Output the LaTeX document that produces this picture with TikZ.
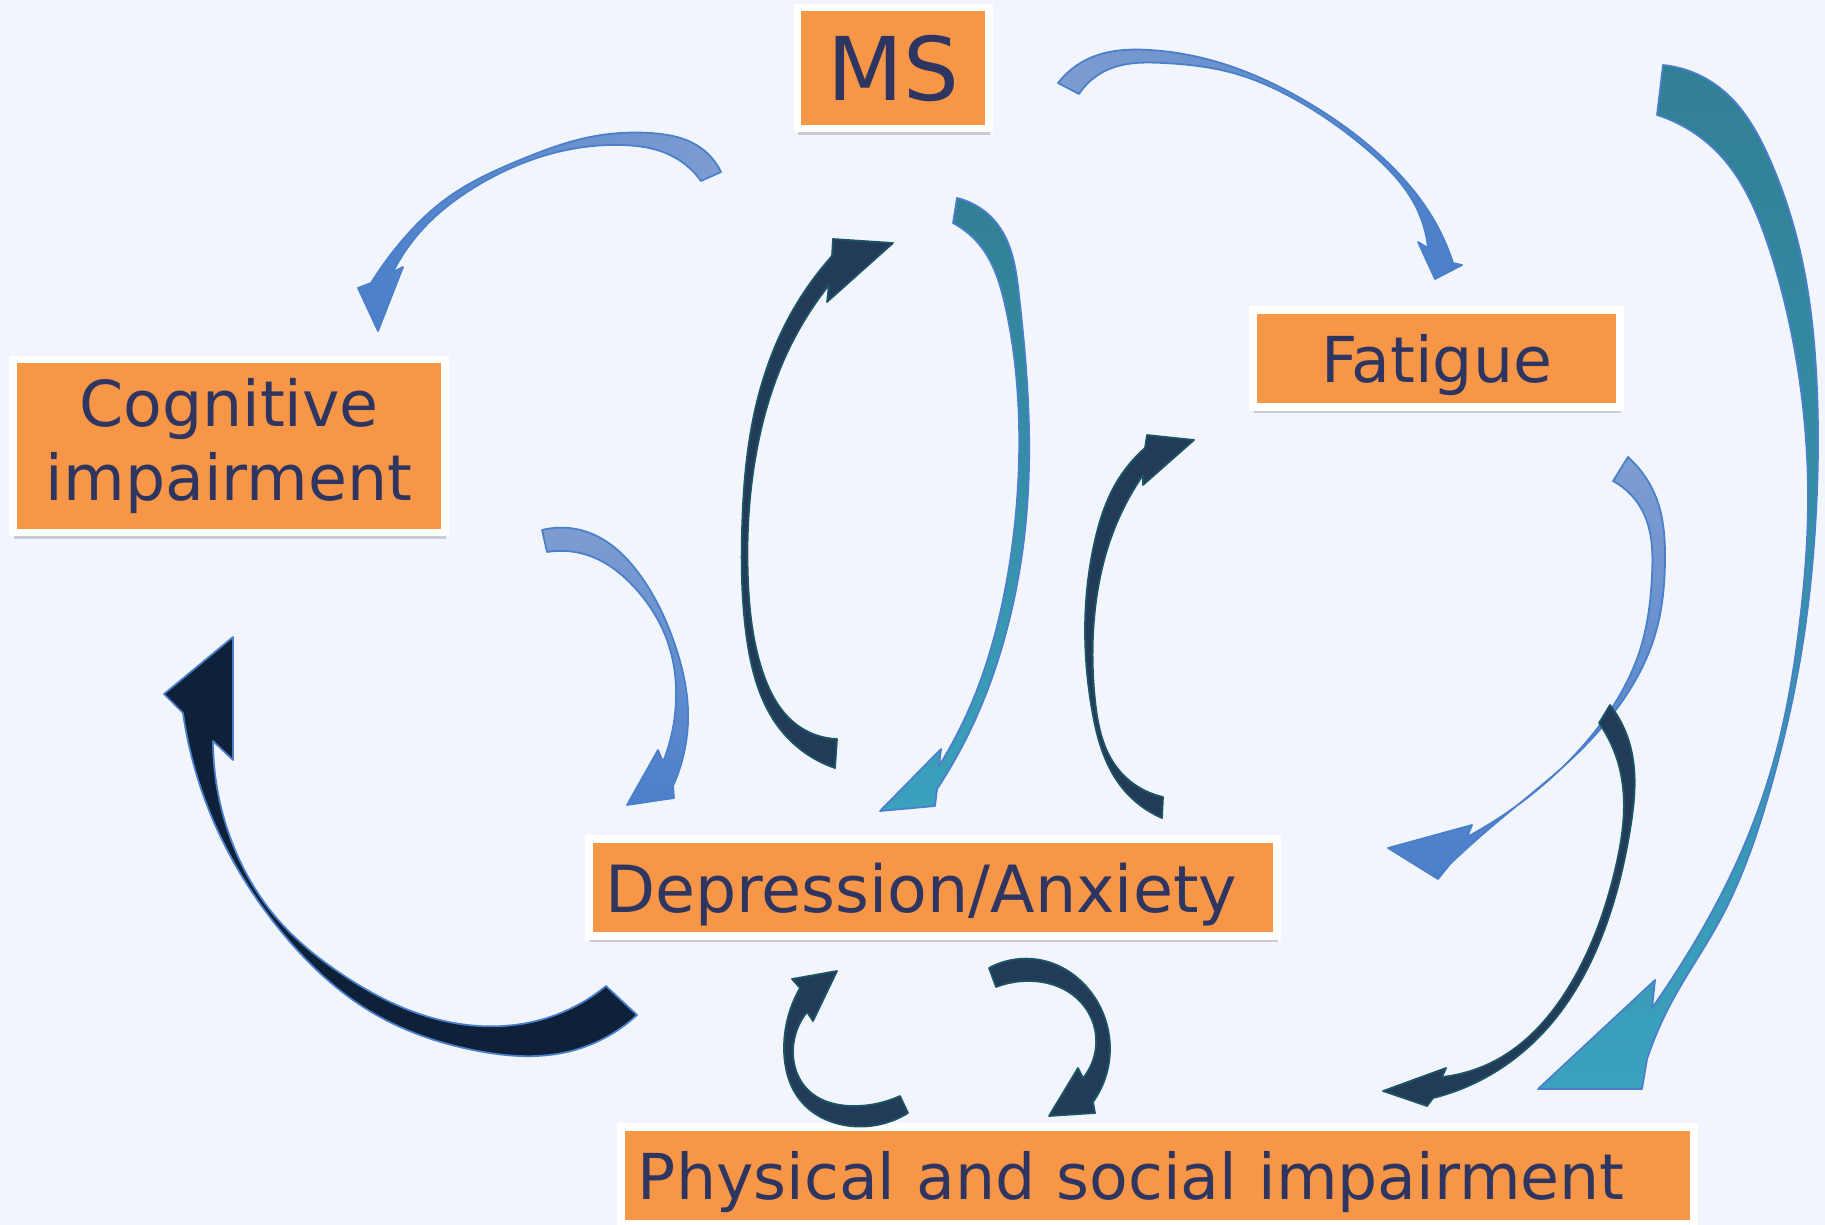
\documentclass[tikz,border=0pt]{standalone}
\usepackage{fontspec}
\setmainfont{DejaVu Sans}
\usetikzlibrary{shadows,hobby}
\definecolor{slidebg}{HTML}{F2F6FC}
\definecolor{boxorange}{HTML}{F79646}
\definecolor{boxtext}{HTML}{2E3560}
\definecolor{blueedge}{HTML}{4A7FCA}
\definecolor{bluehead}{HTML}{4A7FCA}
\definecolor{bluetail}{HTML}{7E9DD1}
\definecolor{navyfill}{HTML}{223B59}
\definecolor{navyedge}{HTML}{1D5566}
\definecolor{inkfill}{HTML}{0F2039}
\definecolor{tealtop}{HTML}{317F95}
\definecolor{tealbottom}{HTML}{3BA1BE}
\newcommand{\bandarrow}[4]{%
  \path[use Hobby shortcut, #1] #2 -- #3 -- #4 -- cycle;}

\begin{document}
\begin{tikzpicture}[x=0.01cm, y=-0.01cm,
  factor/.style={fill=boxorange, draw=white, line width=2.1pt, text=boxtext,
    font=\fontsize{18pt}{21pt}\selectfont, minimum height=0.97cm, inner sep=0pt,
    drop shadow={shadow xshift=0.3pt, shadow yshift=-1.8pt, opacity=0.22, fill=black!80}},
  bluearrow/.style={draw=blueedge, line width=0.5pt, line join=round},
  navyarrow/.style={fill=navyfill, draw=navyedge, line width=0.5pt, line join=round},
  tealarrow/.style={draw=blueedge, line width=0.5pt, line join=round,
    top color=tealtop, bottom color=tealbottom}]
  \fill[slidebg] (0,0) rectangle (1825,1225);
  \useasboundingbox (0,0) rectangle (1825,1225);

  \node[factor, font=\fontsize{25pt}{30pt}\selectfont, minimum width=1.915cm,
    minimum height=1.215cm, text depth=0pt] (ms) at (893,68) {MS};
  \node[factor, align=center, minimum width=4.315cm, minimum height=1.735cm]
    (cog) at (229,446) {Cognitive\\impairment};
  \node[factor, minimum width=3.665cm, text depth=0pt] (fat) at (1436.5,358.5) {Fatigue};
  \node[factor, font=\fontsize{18.5pt}{22pt}\selectfont, text width=6.555cm,
    inner xsep=0.16cm, text depth=0pt, align=left] (dep) at (933,887.5) {Depression/Anxiety};
  \node[factor, text width=10.385cm, inner xsep=0.17cm, text depth=0pt, align=left]
    (phys) at (1157.5,1175.5) {Physical and social impairment};

  % MS -> cognitive impairment
  \bandarrow{bluearrow, left color=bluehead, right color=bluetail}
    {(721,172) .. (698,146) .. (650,133) .. (590,137) .. (520,160) .. (450,196) .. (400,243) .. (371,283)}
    {(358,288) -- (378,331) -- (403,267)}
    {(393,272) .. (420,232) .. (480,184) .. (550,154) .. (620,145) .. (670,155) .. (701,181)}
  % MS -> fatigue
  \bandarrow{bluearrow, left color=bluetail, right color=bluehead}
    {(1058,83) .. (1090,58) .. (1150,50) .. (1227,65) .. (1307,102) .. (1383,158) .. (1435,222) .. (1453,263)}
    {(1462,265) -- (1435,279) -- (1418,242)}
    {(1428,248) .. (1415,205) .. (1370,152) .. (1300,102) .. (1233,73) .. (1163,63) .. (1107,70) .. (1079,94)}
  % MS -> physical and social impairment
  \bandarrow{tealarrow}
    {(1663,65) .. (1720,88) .. (1770,160) .. (1802,260) .. (1817,390) .. (1815,530) .. (1800,660)
     .. (1770,790) .. (1720,920) .. (1670,1005) .. (1647,1059)}
    {(1642,1089) -- (1538,1089) -- (1655,980)}
    {(1652,1008) .. (1690,950) .. (1740,855) .. (1778,745) .. (1800,620) .. (1808,500) .. (1798,370)
     .. (1768,245) .. (1720,155) .. (1657,115)}
  % depression/anxiety -> MS
  \bandarrow{navyarrow}
    {(835,768) .. (780,729) .. (747,640) .. (742,530) .. (755,410) .. (787,321) .. (832,256)}
    {(833,239) -- (893,243) -- (827,302)}
    {(829,285) .. (787,353) .. (755,460) .. (748,580) .. (762,670) .. (797,725) .. (837,739)}
  % MS -> depression/anxiety
  \bandarrow{tealarrow}
    {(957,198) .. (998,225) .. (1019,295) .. (1028,400) .. (1026,520) .. (1008,625) .. (975,720) .. (937,789)}
    {(935,806) -- (880,811) -- (941,749)}
    {(939,766) .. (975,695) .. (1003,600) .. (1017,500) .. (1018,400) .. (1005,305) .. (982,248) .. (953,223)}
  % depression/anxiety -> fatigue
  \bandarrow{navyarrow}
    {(1162,818) .. (1120,785) .. (1092,710) .. (1085,630) .. (1095,540) .. (1115,485) .. (1145,448)}
    {(1147,435) -- (1194,440) -- (1143,485)}
    {(1143,475) .. (1112,535) .. (1094,620) .. (1095,700) .. (1115,765) .. (1163,797)}
  % cognitive impairment -> depression/anxiety
  \bandarrow{bluearrow, top color=bluetail, bottom color=bluehead}
    {(542,530) .. (590,533) .. (640,575) .. (675,645) .. (688,710) .. (673,786)}
    {(674,798) -- (627,805) -- (658,750)}
    {(663,762) .. (676,700) .. (667,640) .. (635,588) .. (590,556) .. (547,552)}
  % depression/anxiety -> cognitive impairment
  \bandarrow{fill=inkfill, draw=blueedge, line width=0.5pt, line join=round}
    {(637,1015) .. (567,1052) .. (473,1050) .. (373,1013) .. (280,930) .. (213,820) .. (183,713)}
    {(164,694) -- (233,637) -- (233,760)}
    {(213,741) .. (230,837) .. (280,922) .. (340,973) .. (440,1020) .. (540,1020) .. (606,986)}
  % fatigue -> depression/anxiety
  \bandarrow{bluearrow, top color=bluetail, bottom color=bluehead}
    {(1628,457) .. (1657,500) .. (1665,560) .. (1655,635) .. (1623,700) .. (1565,765) .. (1497,822) .. (1450,864)}
    {(1438,879) -- (1388,848) -- (1472,825)}
    {(1467,837) .. (1543,785) .. (1605,718) .. (1640,650) .. (1652,575) .. (1643,512) .. (1613,481)}
  % fatigue -> physical and social impairment
  \bandarrow{navyarrow}
    {(1610,705) .. (1630,745) .. (1630,830) .. (1605,928) .. (1550,1025) .. (1490,1075) .. (1433,1098)}
    {(1427,1106) -- (1383,1091) -- (1446,1068)}
    {(1442,1077) .. (1500,1058) .. (1570,985) .. (1615,870) .. (1620,770) .. (1599,723)}
  % physical and social impairment -> depression/anxiety
  \bandarrow{navyarrow}
    {(908,1113) .. (850,1126) .. (800,1100) .. (784,1050) .. (800,988)}
    {(792,979) -- (837,971) -- (813,1021)}
    {(807,1012) .. (793,1050) .. (808,1090) .. (855,1106) .. (900,1096)}
  % depression/anxiety -> physical and social impairment
  \bandarrow{navyarrow}
    {(989,968) .. (1045,961) .. (1093,995) .. (1110,1050) .. (1093,1102)}
    {(1095,1113) -- (1049,1116) -- (1078,1068)}
    {(1083,1078) .. (1095,1030) .. (1073,995) .. (1030,981) .. (996,987)}
\end{tikzpicture}
\end{document}
